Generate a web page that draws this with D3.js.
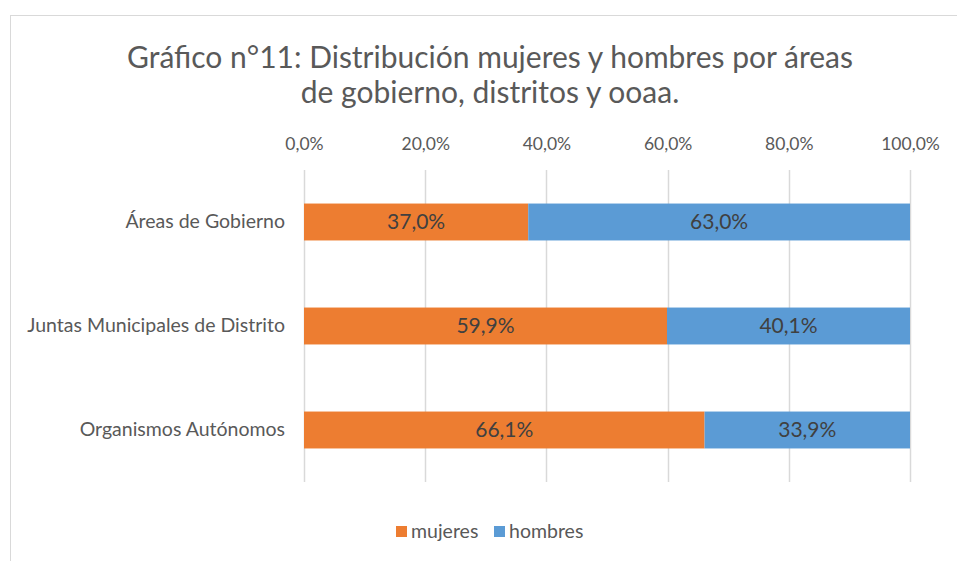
<!DOCTYPE html>
<html>
<head>
<meta charset="utf-8">
<script src="https://cdn.jsdelivr.net/npm/d3@7"></script>
<style>
  body { margin: 0; background: #fff; }
  text { font-family: Lato, "Open Sans", sans-serif; }
</style>
</head>
<body>
<div id="chart"></div>
<script>
const width = 957;
const height = 561;

// data
const categories = ["Áreas de Gobierno", "Juntas Municipales de Distrito", "Organismos Autónomos"];
const mujeres = [37.0, 59.9, 66.1];
const hombres = [63.0, 40.1, 33.9];
const seriesNames = ["mujeres", "hombres"];
const seriesColors = ["#ED7D31", "#5B9BD5"];
const ticks = [0, 20, 40, 60, 80, 100];

const fmt = v => v.toFixed(1).replace(".", ",") + "%";

const svg = d3.select("#chart").append("svg")
    .attr("width", width)
    .attr("height", height);

// chart frame
svg.append("rect")
    .attr("x", 10.5)
    .attr("y", 15.5)
    .attr("width", width + 10)
    .attr("height", height + 10)
    .attr("fill", "none")
    .attr("stroke", "#d9d9d9");

// title
const title = svg.append("text")
    .attr("text-anchor", "middle")
    .attr("fill", "#595959")
    .style("font-size", "30px");
title.append("tspan").attr("x", 490).attr("y", 68)
    .text("Gráfico n°11: Distribución mujeres y hombres por áreas");
title.append("tspan").attr("x", 490).attr("y", 103)
    .text("de gobierno, distritos y ooaa.");

const x = d3.scaleLinear()
    .domain([0, 100])
    .range([304, 910]);

const y = d3.scaleBand()
    .domain(categories)
    .range([170, 482])
    .paddingInner(0.645)
    .paddingOuter(0.3225);

// gridlines
svg.append("g")
    .selectAll("line")
    .data(ticks)
    .enter()
    .append("line")
    .attr("x1", d => Math.round(x(d)) + 0.5)
    .attr("x2", d => Math.round(x(d)) + 0.5)
    .attr("y1", 170)
    .attr("y2", 482)
    .attr("stroke", "#d9d9d9")
    .attr("stroke-width", 1.5);

// top axis labels
const xAxis = svg.append("g")
    .attr("transform", "translate(0, 170)")
    .call(d3.axisTop(x).tickValues(ticks).tickFormat(fmt).tickSize(0).tickPadding(20));
xAxis.select(".domain").remove();
xAxis.selectAll("text")
    .attr("fill", "#595959")
    .style("font-family", "Lato, sans-serif")
    .style("font-size", "17.5px");

// category labels
const yAxis = svg.append("g")
    .attr("transform", "translate(304, 0)")
    .call(d3.axisLeft(y).tickSize(0).tickPadding(19));
yAxis.select(".domain").remove();
yAxis.selectAll("text")
    .attr("fill", "#595959")
    .style("font-family", "Lato, sans-serif")
    .style("font-size", "19.5px");

// stacked bars
const rows = categories.map((c, i) => ({ cat: c, mujeres: mujeres[i], hombres: hombres[i] }));
const stacked = d3.stack().keys(seriesNames)(rows);

const groups = svg.append("g")
    .selectAll("g")
    .data(stacked)
    .enter()
    .append("g")
    .attr("fill", (d, i) => seriesColors[i]);

groups.selectAll("rect")
    .data(d => d)
    .enter()
    .append("rect")
    .attr("x", d => x(d[0]))
    .attr("y", d => y(d.data.cat))
    .attr("width", d => x(d[1]) - x(d[0]))
    .attr("height", y.bandwidth());

groups.selectAll("text")
    .data(d => d)
    .enter()
    .append("text")
    .attr("x", d => (x(d[0]) + x(d[1])) / 2)
    .attr("y", d => y(d.data.cat) + y.bandwidth() / 2)
    .attr("dy", "0.35em")
    .attr("text-anchor", "middle")
    .attr("fill", "#404040")
    .style("font-size", "21px")
    .text(d => fmt(d[1] - d[0]));

// legend
const legendX = [396, 494];
const legend = svg.append("g")
    .selectAll("g")
    .data(seriesNames)
    .enter()
    .append("g")
    .attr("transform", (d, i) => `translate(${legendX[i]}, 526)`);

legend.append("rect")
    .attr("width", 11)
    .attr("height", 11)
    .attr("fill", (d, i) => seriesColors[i]);

legend.append("text")
    .attr("x", 15)
    .attr("y", 12)
    .attr("fill", "#595959")
    .style("font-size", "19.5px")
    .text(d => d);
</script>
</body>
</html>
